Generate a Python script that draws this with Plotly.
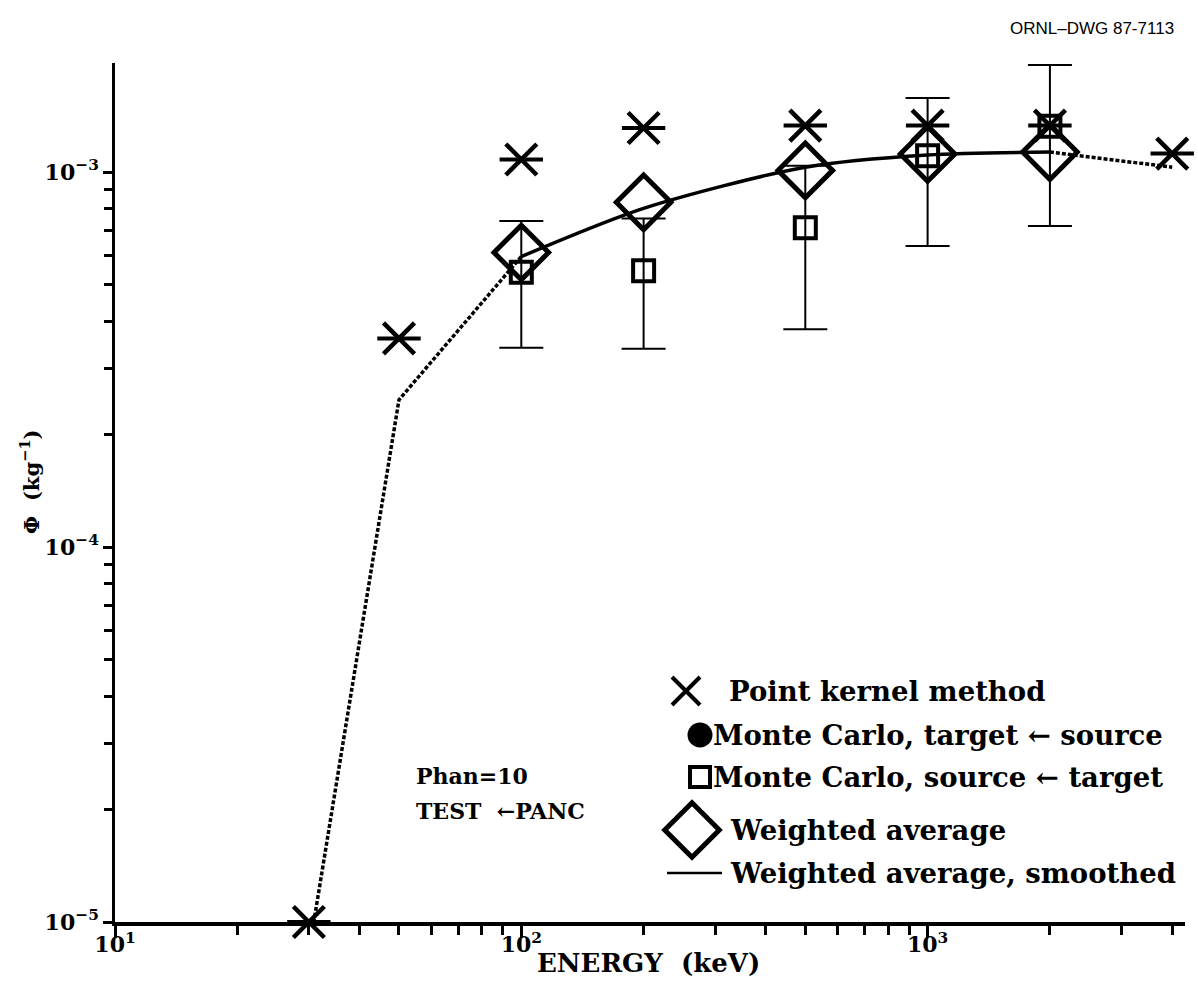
import plotly.graph_objects as go

# ---- data ---------------------------------------------------------------
energy_pk = [30, 50, 100, 200, 500, 1000, 2000, 4000]
phi_pk = [1.0e-5, 3.6e-4, 1.08e-3, 1.31e-3, 1.33e-3, 1.33e-3, 1.33e-3, 1.12e-3]

energy_mc = [100, 200, 500, 1000, 2000]
phi_mc = [5.4e-4, 5.45e-4, 7.1e-4, 1.105e-3, 1.324e-3]
err_mc = [2.0e-4, 2.07e-4, 3.29e-4, 4.7e-4, 6.06e-4]

energy_wa = [100, 200, 500, 1000, 2000]
phi_wa = [6.1e-4, 8.3e-4, 1.01e-3, 1.117e-3, 1.13e-3]

energy_sm_low = [30, 50, 100]
phi_sm_low = [8.3e-6, 2.47e-4, 5.95e-4]
energy_sm_mid = [100, 200, 500, 1000, 2000]
phi_sm_mid = [5.95e-4, 8.0e-4, 1.03e-3, 1.11e-3, 1.13e-3]
energy_sm_high = [2000, 4000]
phi_sm_high = [1.13e-3, 1.03e-3]

x_tickvals = [10, 100, 1000]
x_ticktext = ["10<sup>1</sup>", "10<sup>2</sup>", "10<sup>3</sup>"]
y_tickvals = [1e-5, 1e-4, 1e-3]
y_ticktext = ["10<sup>−5</sup>", "10<sup>−4</sup>", "10<sup>−3</sup>"]

legend_labels = [
    "Point kernel method",
    "Monte Carlo, target ← source",
    "Monte Carlo, source ← target",
    "Weighted average",
    "Weighted average, smoothed",
]

SERIF = "DejaVu Serif"
INK = "black"

# frame geometry (pixels)
W, H = 1198, 983
LEFT, RIGHT, TOP, BOTTOM = 115, 1185, 63, 922


def px(x):
    return (x - LEFT) / (RIGHT - LEFT)


def py(y):
    return (BOTTOM - y) / (BOTTOM - TOP)


x_minor = [m * 10 ** d for d in (1, 2, 3) for m in range(2, 10)]
y_minor = [m * 10 ** d for d in (-5, -4, -3) for m in range(2, 10)]

fig = go.Figure()

# smoothed weighted average: dotted extrapolations, solid fitted section
fig.add_trace(go.Scatter(x=energy_sm_low, y=phi_sm_low, mode="lines",
                         line=dict(color=INK, width=3.5, dash="4px,2px")))
fig.add_trace(go.Scatter(x=energy_sm_high, y=phi_sm_high, mode="lines",
                         line=dict(color=INK, width=3.5, dash="4px,2px")))
fig.add_trace(go.Scatter(x=energy_sm_mid, y=phi_sm_mid, mode="lines",
                         line=dict(color=INK, width=3.5, shape="spline", smoothing=0.8)))

# Monte Carlo with error bars
fig.add_trace(go.Scatter(
    x=energy_mc, y=phi_mc, mode="markers",
    marker=dict(symbol="square-open", size=21, color=INK, line=dict(width=4, color=INK)),
    error_y=dict(type="data", array=err_mc, visible=True, color=INK, thickness=2, width=22),
    cliponaxis=False))

# weighted average diamonds
fig.add_trace(go.Scatter(
    x=energy_wa, y=phi_wa, mode="markers",
    marker=dict(symbol="diamond-open", size=42, color=INK, line=dict(width=5, color=INK)),
    cliponaxis=False))

# point kernel: X with a horizontal bar
fig.add_trace(go.Scatter(
    x=energy_pk, y=phi_pk, mode="markers",
    marker=dict(symbol="x-thin-open", size=31, color=INK, line=dict(width=4.5, color=INK)),
    cliponaxis=False))
fig.add_trace(go.Scatter(
    x=energy_pk, y=phi_pk, mode="markers",
    marker=dict(symbol="line-ew-open", size=31, color=INK, line=dict(width=4, color=INK)),
    cliponaxis=False))

# ---- legend keys, on a pixel-like overlay frame -------------------------
key_x = [686, 700, 700, 692]
key_y = [691, 735, 777, 830]
fig.add_trace(go.Scatter(x=[key_x[0]], y=[key_y[0]], xaxis="x2", yaxis="y2", mode="markers",
                         marker=dict(symbol="x-thin-open", size=28, color=INK,
                                     line=dict(width=4, color=INK)),
                         cliponaxis=False))
fig.add_trace(go.Scatter(x=[key_x[1]], y=[key_y[1]], xaxis="x2", yaxis="y2", mode="markers",
                         marker=dict(symbol="circle", size=25, color=INK), cliponaxis=False))
fig.add_trace(go.Scatter(x=[key_x[2]], y=[key_y[2]], xaxis="x2", yaxis="y2", mode="markers",
                         marker=dict(symbol="square-open", size=20, color=INK,
                                     line=dict(width=4, color=INK)),
                         cliponaxis=False))
fig.add_trace(go.Scatter(x=[key_x[3]], y=[key_y[3]], xaxis="x2", yaxis="y2", mode="markers",
                         marker=dict(symbol="diamond-open", size=42, color=INK,
                                     line=dict(width=5, color=INK)),
                         cliponaxis=False))
fig.add_trace(go.Scatter(x=[667, 722], y=[873, 873], xaxis="x2", yaxis="y2", mode="lines",
                         line=dict(color=INK, width=2.5), cliponaxis=False))

text_x = [727, 711, 711, 728, 728]
text_y = [691, 735, 777, 830, 873]
font_leg = dict(family=SERIF, size=27.5, color=INK, weight="bold")
for tx, ty, lab in zip(text_x, text_y, legend_labels):
    fig.add_annotation(x=px(tx), y=py(ty), xref="paper", yref="paper", text=lab,
                       showarrow=False, xanchor="left", yanchor="middle", font=font_leg)

font_note = dict(family=SERIF, size=22, color=INK, weight="bold")
fig.add_annotation(x=px(414), y=py(776), xref="paper", yref="paper", text="Phan=10",
                   showarrow=False, xanchor="left", yanchor="middle", font=font_note)
fig.add_annotation(x=px(414), y=py(811), xref="paper", yref="paper", text="TEST  ←PANC",
                   showarrow=False, xanchor="left", yanchor="middle", font=font_note)

# axis titles and drawing number
fig.add_annotation(x=px(648), y=py(963), xref="paper", yref="paper", text="ENERGY  (keV)",
                   showarrow=False, xanchor="center", yanchor="middle",
                   font=dict(family=SERIF, size=26, color=INK, weight="bold"))
fig.add_annotation(x=px(30), y=py(482), xref="paper", yref="paper",
                   text="Φ  (kg<sup>−1</sup>)", showarrow=False,
                   xanchor="center", yanchor="middle", textangle=-90,
                   font=dict(family=SERIF, size=21, color=INK, weight="bold"))
fig.add_annotation(x=px(1176), y=py(28), xref="paper", yref="paper", text="ORNL–DWG 87-7113",
                   showarrow=False, xanchor="right", yanchor="middle",
                   font=dict(family="Liberation Sans", size=17, color=INK))

tick_font = dict(family=SERIF, size=22, color=INK, weight="bold")
y_top = -5 + (BOTTOM - TOP) / 375.0
fig.update_layout(
    width=W, height=H,
    margin=dict(l=LEFT, r=W - RIGHT, t=TOP, b=H - BOTTOM, pad=0),
    paper_bgcolor="white", plot_bgcolor="white",
    showlegend=False,
    xaxis=dict(type="log", range=[1, 3.6335], showgrid=False, zeroline=False,
               showline=True, linecolor=INK, linewidth=3.5, mirror=False,
               tickmode="array", tickvals=x_tickvals, ticktext=x_ticktext,
               ticks="outside", ticklen=12, tickwidth=2.5, tickcolor=INK,
               tickfont=tick_font, ticklabelstandoff=-12,
               minor=dict(tickmode="array", tickvals=x_minor, ticks="outside",
                          ticklen=9, tickwidth=2.5, tickcolor=INK, showgrid=False)),
    yaxis=dict(type="log", range=[-5, y_top], showgrid=False, zeroline=False,
               showline=True, linecolor=INK, linewidth=2.5, mirror=False,
               tickmode="array", tickvals=y_tickvals, ticktext=y_ticktext,
               ticks="outside", ticklen=9, tickwidth=2.5, tickcolor=INK,
               tickfont=tick_font,
               minor=dict(tickmode="array", tickvals=y_minor, ticks="outside",
                          ticklen=8, tickwidth=2.5, tickcolor=INK, showgrid=False)),
    xaxis2=dict(overlaying="x", anchor="y2", range=[LEFT, RIGHT], visible=False),
    yaxis2=dict(overlaying="y", anchor="x2", range=[BOTTOM, TOP], visible=False),
)

fig.write_html("out.html")
